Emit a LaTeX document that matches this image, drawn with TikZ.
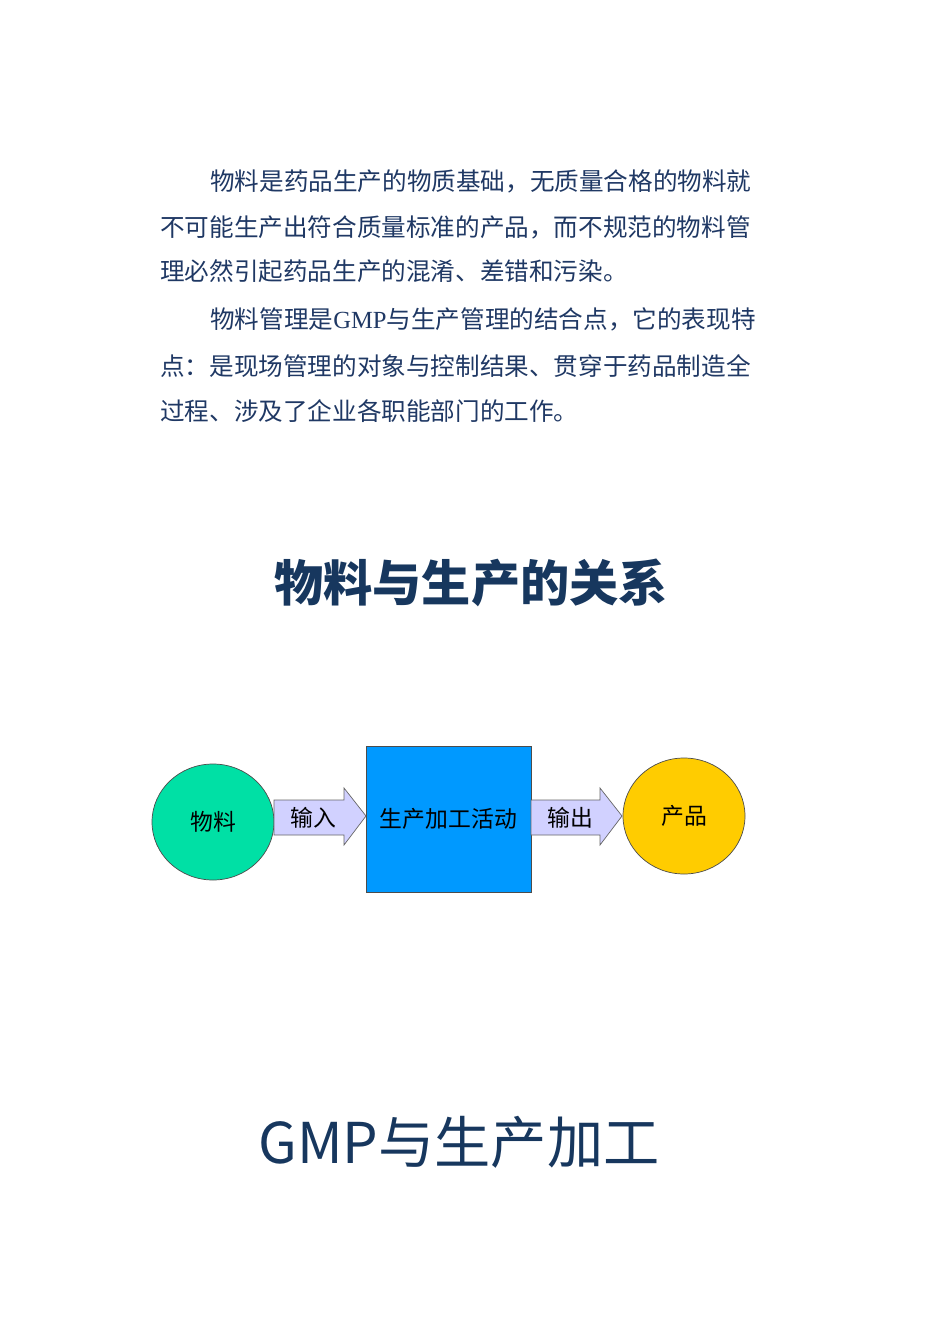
\documentclass[tikz,border=0pt]{standalone}
\usepackage{fontspec}
\setmainfont{Liberation Serif}
\newfontfamily\cjk{Noto Sans CJK SC}
\usetikzlibrary{shapes.geometric,shapes.arrows}
\definecolor{txt}{HTML}{1F3864}
\definecolor{ttl}{HTML}{17375E}
\begin{document}
\begin{tikzpicture}[x=0.02cm,y=-0.02cm,
  para/.style={anchor=west,inner sep=0,font=\cjk\fontsize{14}{14}\selectfont,text=txt},
  ball/.style={ellipse,draw=black!70,minimum width=122*0.02cm,minimum height=116*0.02cm,inner sep=0,font=\cjk\fontsize{13}{13}\selectfont},
  flow/.style={draw=black!60,fill=blue!18,line width=0.4pt},
  lbl/.style={font=\cjk\fontsize{13}{13}\selectfont,inner sep=0}]
\useasboundingbox (0,0) rectangle (950,1344);
\node[para] (l1) at (210,181) {物料是药品生产的物质基础，无质量合格的物料就};
\node[para] (l2) at (160,227) {不可能生产出符合质量标准的产品，而不规范的物料管};
\node[para] (l3) at (160,271) {理必然引起药品生产的混淆、差错和污染。};
\node[para] (l4) at (210,319) {物料管理是{\rmfamily GMP}与生产管理的结合点，它的表现特};
\node[para] (l5) at (160,366) {点：是现场管理的对象与控制结果、贯穿于药品制造全};
\node[para] (l6) at (160,411) {过程、涉及了企业各职能部门的工作。};
\node[text=ttl,font=\cjk\bfseries\fontsize{28}{28}\selectfont] (t1) at (471,583) {物料与生产的关系};
\node[text=ttl,font=\cjk\fontsize{32}{32}\selectfont] (t2) at (459,1142) {GMP与生产加工};
\node[ball,fill={rgb,255:red,0;green,224;blue,165}] (m) at (213,822) {物料};
\node[ball,fill={rgb,255:red,255;green,204;blue,0}] (p) at (684,816) {产品};
\node[draw=black!70,fill={rgb,255:red,0;green,153;blue,255},minimum width=165*0.02cm,minimum height=146*0.02cm,inner sep=0,font=\cjk\fontsize{13}{13}\selectfont] (b) at (448.5,819) {生产加工活动};
\draw[flow] (274,800) -- (344,800) -- (344,788) -- (366,816) -- (344,845) -- (344,835) -- (274,835) -- cycle;
\draw[flow] (531,800) -- (600,800) -- (600,788) -- (622,816) -- (600,845) -- (600,835) -- (531,835) -- cycle;
\node[lbl] (i1) at (313,818) {输入};
\node[lbl] (o1) at (570,818) {输出};
\end{tikzpicture}
\end{document}
